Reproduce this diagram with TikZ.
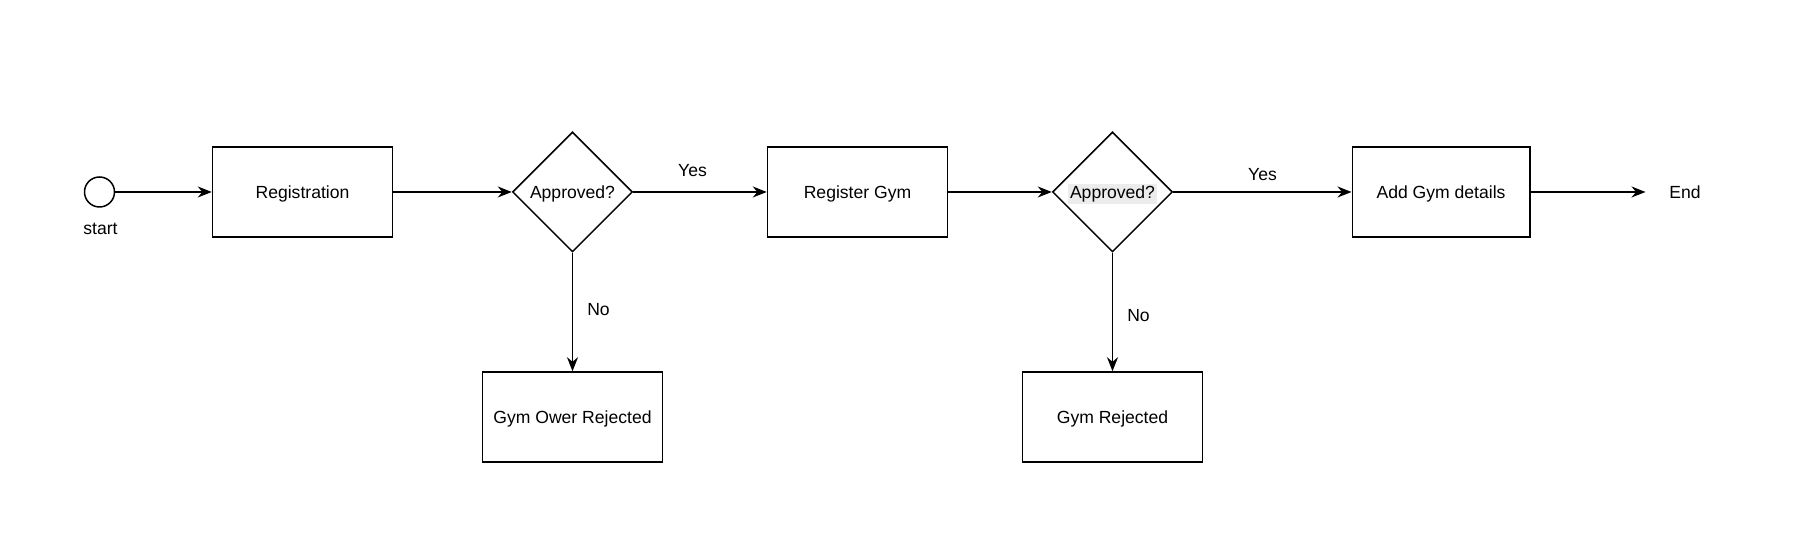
\documentclass[tikz,border=0pt]{standalone}
\usepackage{fontspec}
\setmainfont{Liberation Sans}
\usetikzlibrary{positioning, arrows.meta, shapes.geometric}
\definecolor{hlgray}{RGB}{236,236,236}
\tikzset{
  box/.style={draw, line width=0.85pt, minimum width=3.6cm, minimum height=1.8cm, inner sep=0pt, text height=0.85em, text depth=0.13em},
  decision/.style={draw, diamond, aspect=1, line width=0.85pt, minimum width=2.4cm, minimum height=2.4cm, inner sep=0pt, text height=0.85em, text depth=0.13em},
  flow/.style={line width=0.85pt, -{Stealth[length=2.8mm, width=2.2mm]}},
}

\begin{document}
\begin{tikzpicture}
\useasboundingbox (0,0) rectangle (36.24,11.04);
% Start point
\node (start) [circle, draw, line width=0.85pt, minimum size=0.6cm, inner sep=0pt] at (1.99,7.2) {};
\node (startlbl) at (2.01,6.46) {start};
% Main row
\node (reg) [box] at (6.05,7.2) {Registration};
\node (app1) [decision] at (11.45,7.2) {Approved?};
\node (reggym) [box] at (17.15,7.2) {Register Gym};
\node (app2) [decision] at (22.25,7.2) {\setlength{\fboxsep}{1pt}\colorbox{hlgray}{Approved?}};
\node (details) [box, minimum width=3.55cm] at (28.82,7.2) {Add Gym details};
\coordinate (endpt) at (32.91,7.2);
\node (endlbl) at (33.7,7.2) {End};
% Rejected boxes
\node (rej1) [box] at (11.45,2.7) {Gym Ower Rejected};
\node (rej2) [box] at (22.25,2.7) {Gym Rejected};
% Connectors
\draw[flow] (start) -- (reg);
\draw[flow] (reg) -- (app1);
\draw[flow] (app1) -- (reggym);
\draw[flow] (reggym) -- (app2);
\draw[flow] (app2) -- (details);
\draw[flow] (details) -- (endpt);
\draw[flow] (app1) -- (rej1);
\draw[flow] (app2) -- (rej2);
% Branch labels
\node (yes1) at (13.85,7.62) {Yes};
\node (yes2) at (25.25,7.54) {Yes};
\node (no1) at (11.97,4.85) {No};
\node (no2) at (22.77,4.73) {No};
\end{tikzpicture}
\end{document}
